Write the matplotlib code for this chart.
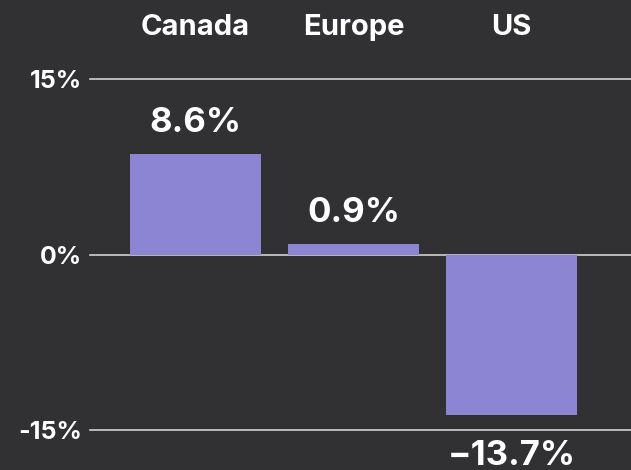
import matplotlib.pyplot as plt
import numpy as np

regions = ["Canada", "Europe", "US"]
change = [8.6, 0.9, -13.7]
yticks = [-15, 0, 15]
ytick_labels = ["-15%", "0%", "15%"]

bg = "#313133"
bar_color = "#8b85d4"

plt.rcParams['font.family'] = ['Inter', 'DejaVu Sans']

fig = plt.figure(figsize=(6.31, 4.70), dpi=100, facecolor=bg)
ax = fig.add_axes([90 / 631, 40 / 470, 541 / 631, 351 / 470])
ax.set_facecolor(bg)

x = np.arange(len(regions))
ax.bar(x, change, width=0.83, color=bar_color, zorder=2)

ax.set_ylim(-15, 15)
ax.set_xlim(-0.668, 2.756)
ax.set_yticks(yticks)
ax.set_yticklabels(ytick_labels, fontsize=18, fontweight='bold', color='white')
ax.tick_params(axis='y', length=0, pad=6)
ax.set_xticks([])
for y in yticks:
    ax.axhline(y, color='#d0d0d0', lw=1.2, zorder=1, clip_on=False)
for s in ax.spines.values():
    s.set_visible(False)

# region names above the plot
for xi, name in zip(x, regions):
    ax.annotate(name, (xi, 1.0), xycoords=ax.get_xaxis_transform(), xytext=(0, 31.5),
                textcoords='offset points', ha='center', va='baseline',
                fontsize=21, fontweight='bold', color='white', annotation_clip=False)

# value labels
for xi, v in zip(x, change):
    if v >= 0:
        ax.annotate(f"{v:.1f}%", (xi, v), xytext=(0, 16), textcoords='offset points',
                    ha='center', va='baseline', fontsize=25, fontweight='bold', color='white')
    else:
        ax.annotate(f"{v:.1f}%".replace("-", "\u2212"), (xi, -15), xytext=(0, -25),
                    textcoords='offset points', ha='center', va='baseline', fontsize=25,
                    fontweight='bold', color='white', annotation_clip=False)

fig.savefig("out.png", dpi=100, facecolor=bg)
